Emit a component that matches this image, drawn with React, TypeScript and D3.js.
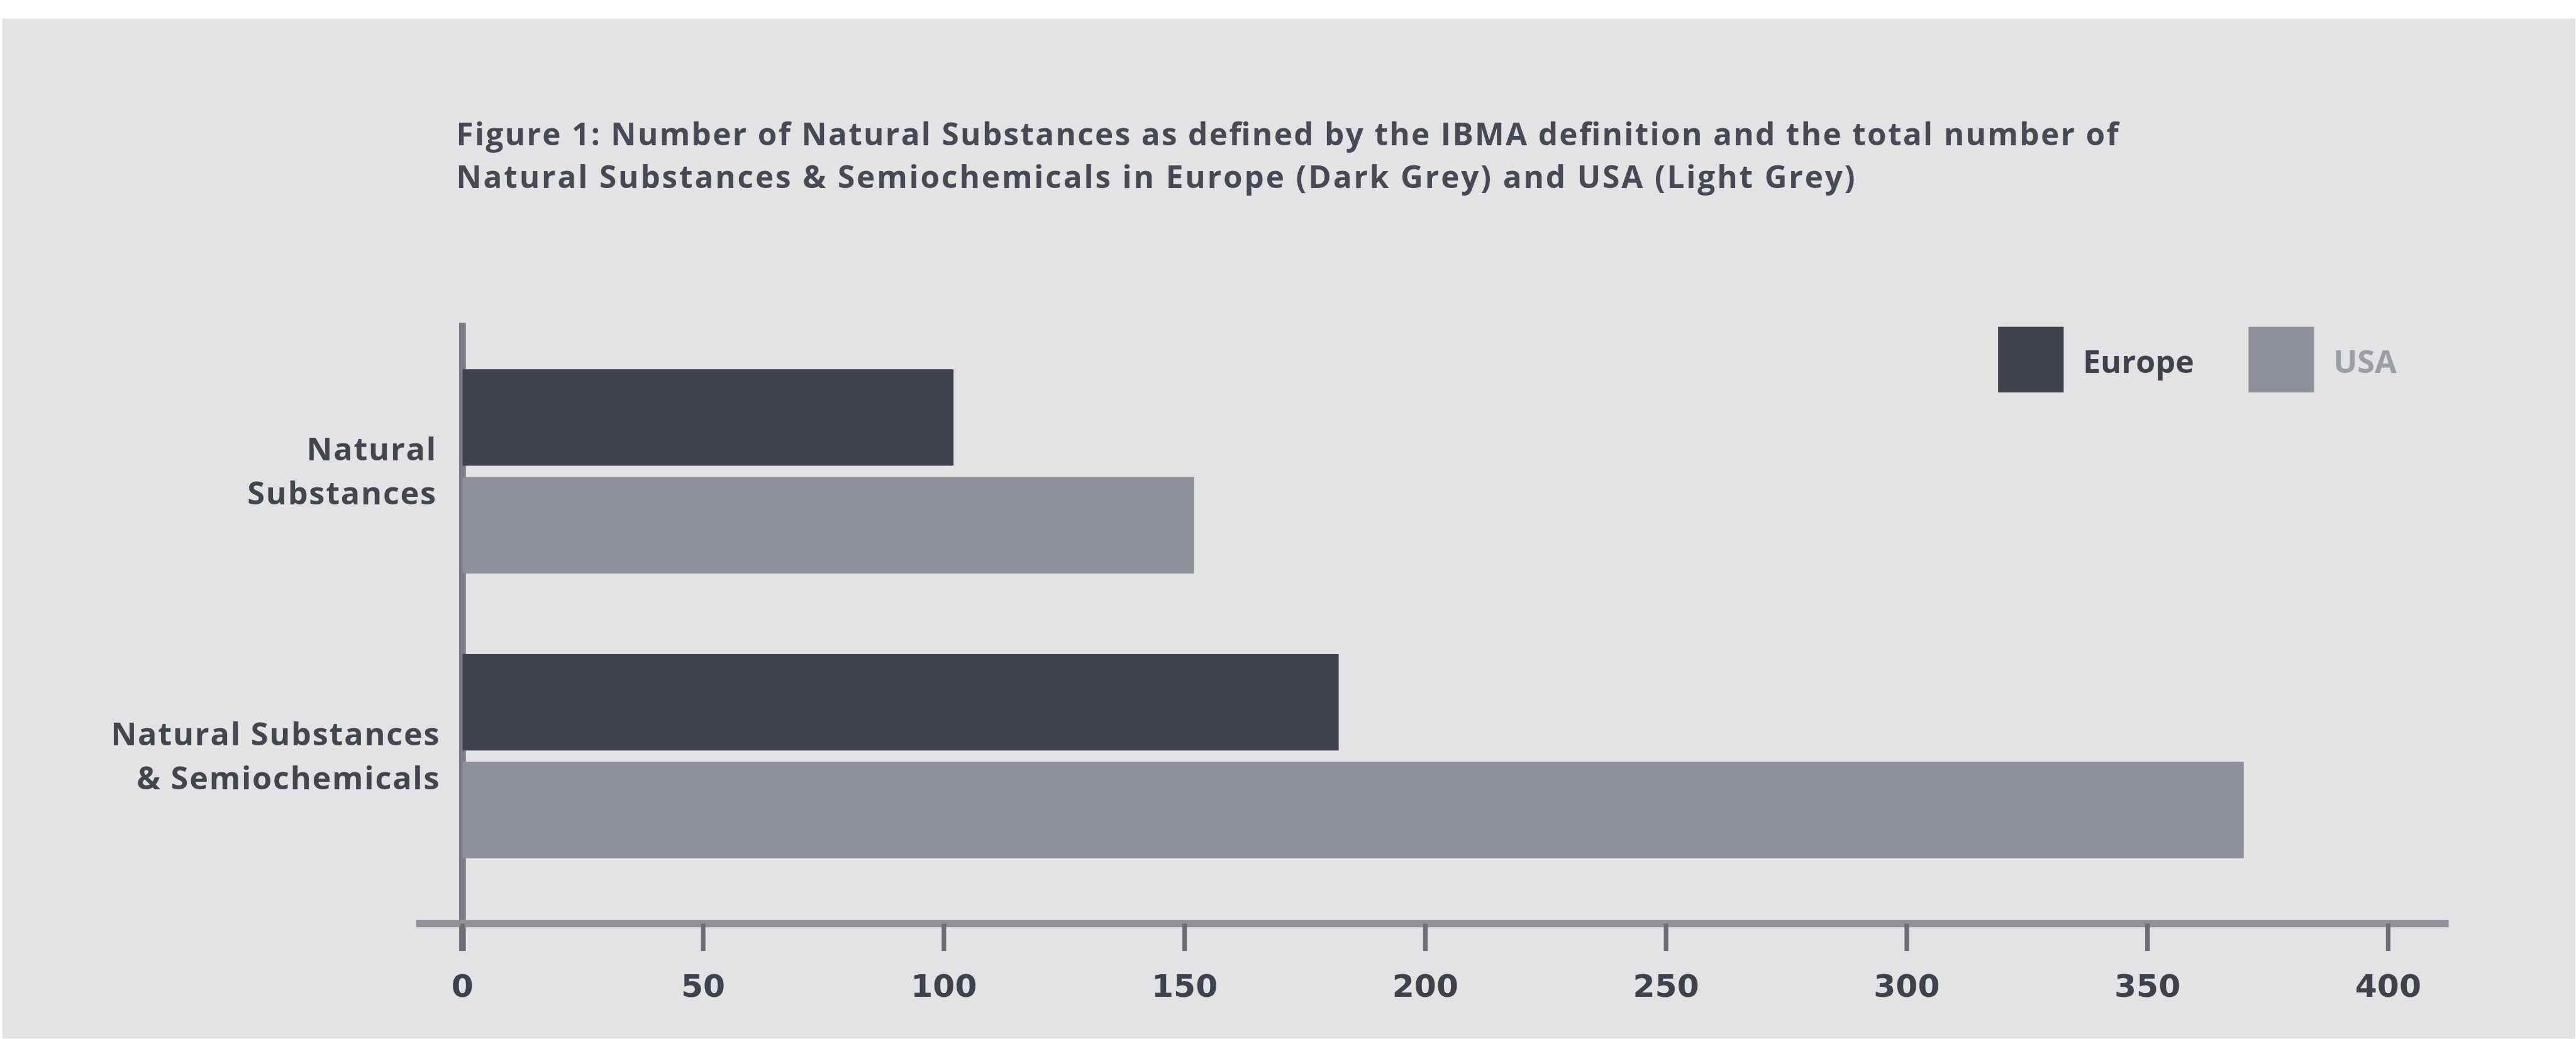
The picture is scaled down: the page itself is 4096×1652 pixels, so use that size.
import React from 'react';
import * as d3 from 'd3';

const categories = ['Natural Substances', 'Natural Substances & Semiochemicals'];
const categoryLines = [
  ['Natural', 'Substances'],
  ['Natural Substances', '& Semiochemicals'],
];
const seriesNames = ['Europe', 'USA'];
const europeValues = [102, 182];
const usaValues = [152, 370];
const xTicks = [0, 50, 100, 150, 200, 250, 300, 350, 400];
const titleLines = [
  'Figure 1: Number of Natural Substances as defined by the IBMA definition and the total number of',
  'Natural Substances & Semiochemicals in Europe (Dark Grey) and USA (Light Grey)',
];
const titleWidths = [2940, 2474];

const seriesValues: Record<string, number[]> = { Europe: europeValues, USA: usaValues };
const seriesColors: Record<string, string> = { Europe: '#40434e', USA: '#8e9199' };
const legendTextColors: Record<string, string> = { Europe: '#3f424c', USA: '#9c9ea5' };

const W = 4555;
const H = 1837;
const S = 0.899;
const FONT = "'Open Sans', 'DejaVu Sans', sans-serif";
const NUM_FONT = "'DejaVu Sans', 'Open Sans', sans-serif";

export default function App() {
  const x = d3.scaleLinear().domain([0, 400]).range([818, 4224]);
  const y = d3
    .scaleBand<string>()
    .domain(categories)
    .range([571, 1600])
    .paddingInner(0.283)
    .paddingOuter(0.163);
  const inner = d3
    .scaleBand<string>()
    .domain(seriesNames)
    .range([0, y.bandwidth()])
    .paddingInner(0.105);

  const axisY = 1633.5;
  const legendX = [3534, 3977];
  const labelSpacing = 2;

  return (
    <svg
      width={4096}
      height={1652}
      style={{ position: 'absolute', left: 0, top: 0, display: 'block' }}
    >
      <rect x={0} y={0} width={4096} height={1652} fill="#ffffff" />
      <g transform={`scale(${S})`}>
        <rect x={4} y={33} width={W - 4} height={H - 33} fill="#e3e3e5" />

        {/* Title */}
        {titleLines.map((t, i) => (
          <text
            key={i}
            x={807}
            y={257 + i * 76}
            fontFamily={FONT}
            fontWeight={700}
            fontSize={55}
            fill="#474954"
            textLength={titleWidths[i]}
            lengthAdjust="spacing"
          >
            {t}
          </text>
        ))}

        {/* Y axis line */}
        <line x1={818} x2={818} y1={571} y2={1682} stroke="#7b7d84" strokeWidth={12} />

        {/* Bars */}
        {categories.map((c, ci) => (
          <g key={c} transform={`translate(0,${y(c)})`}>
            {seriesNames.map((s) => (
              <rect
                key={s}
                x={x(0)}
                y={inner(s)}
                width={x(seriesValues[s][ci]) - x(0)}
                height={inner.bandwidth()}
                fill={seriesColors[s]}
              />
            ))}
          </g>
        ))}

        {/* Category labels */}
        {categories.map((c, ci) => {
          const cy = (y(c) as number) + y.bandwidth() / 2;
          const lines = categoryLines[ci];
          const ls = 78;
          return (
            <g key={c}>
              {lines.map((l, li) => (
                <text
                  key={li}
                  x={(ci === 0 ? 771 : 777) + labelSpacing}
                  y={cy + 20 + (li - (lines.length - 1) / 2) * ls}
                  textAnchor="end"
                  fontFamily={FONT}
                  fontWeight={700}
                  fontSize={56}
                  letterSpacing={labelSpacing}
                  fill="#44464f"
                >
                  {l}
                </text>
              ))}
            </g>
          );
        })}

        {/* X axis */}
        <line x1={736} x2={4331} y1={axisY} y2={axisY} stroke="#909298" strokeWidth={13} />
        {xTicks.map((t) => (
          <g key={t}>
            <line x1={x(t)} x2={x(t)} y1={axisY} y2={1682} stroke="#6c6e75" strokeWidth={8} />
            <text
              x={x(t)}
              y={1763}
              textAnchor="middle"
              fontFamily={NUM_FONT}
              fontWeight={700}
              fontSize={56}
              fill="#3f424c"
            >
              {t}
            </text>
          </g>
        ))}

        {/* Legend */}
        {seriesNames.map((s, i) => (
          <g key={s}>
            <rect x={legendX[i]} y={578} width={116} height={116} fill={seriesColors[s]} />
            <text
              x={legendX[i] + 150}
              y={660}
              fontFamily={FONT}
              fontWeight={700}
              fontSize={56}
              fill={legendTextColors[s]}
            >
              {s}
            </text>
          </g>
        ))}
      </g>
    </svg>
  );
}
